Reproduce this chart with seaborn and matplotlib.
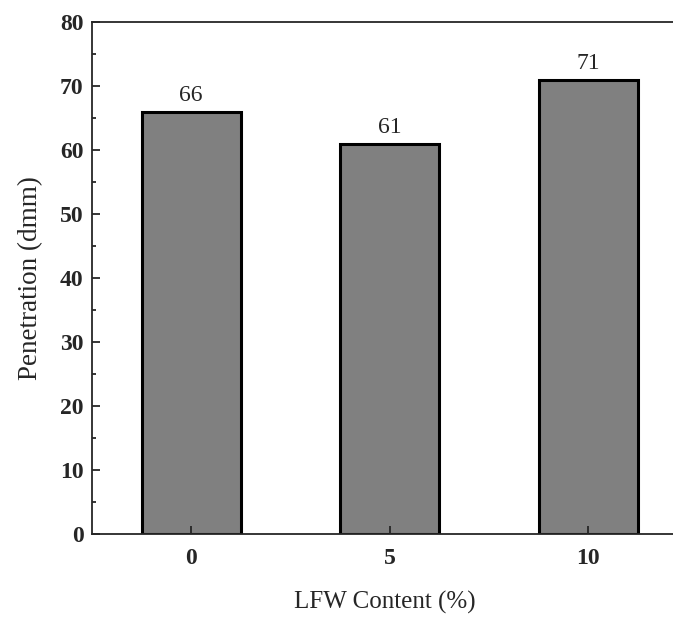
import matplotlib
matplotlib.use("Agg")
import matplotlib.pyplot as plt
import seaborn as sns
import pandas as pd
from matplotlib.ticker import MultipleLocator

# dados
conteudo = ["0", "5", "10"]
penetracao = [66, 61, 71]

sns.set_style("ticks")
plt.rcParams['font.family'] = ['Liberation Serif', 'DejaVu Serif']

df = pd.DataFrame({"LFW": conteudo, "Pen": penetracao})

fig = plt.figure(figsize=(6.73, 6.19), dpi=100)
ax = fig.add_axes([0.1367, 0.1373, 0.87, 0.827])

sns.barplot(data=df, x="LFW", y="Pen", color="#808080", width=0.5,
            edgecolor="black", linewidth=2.2, saturation=1, ax=ax)
ax.set_axisbelow(False)

for i, v in enumerate(penetracao):
    ax.annotate(f"{v}", (i, v), xytext=(0, 4), textcoords="offset points",
                ha="center", va="bottom", fontsize=17)

ax.set_xlim(-0.5, 2.45)
ax.set_ylim(0, 80)
ax.yaxis.set_major_locator(MultipleLocator(10))
ax.yaxis.set_minor_locator(MultipleLocator(5))
ax.tick_params(axis="both", which="major", direction="in", length=6, width=1.3, labelsize=17)
ax.tick_params(axis="y", which="major", pad=6)
ax.tick_params(axis="x", which="major", pad=10)
ax.tick_params(axis="y", which="minor", direction="in", length=3, width=1.3)
for lab in ax.get_xticklabels() + ax.get_yticklabels():
    lab.set_fontweight("bold")

for side in ["left", "bottom", "top"]:
    ax.spines[side].set_linewidth(1.3)
ax.spines["right"].set_visible(False)

ax.set_xlabel("LFW Content (%)", fontsize=18, labelpad=16)
ax.set_ylabel("Penetration (dmm)", fontsize=19.5, labelpad=12)

fig.savefig("out.png", dpi=100)
